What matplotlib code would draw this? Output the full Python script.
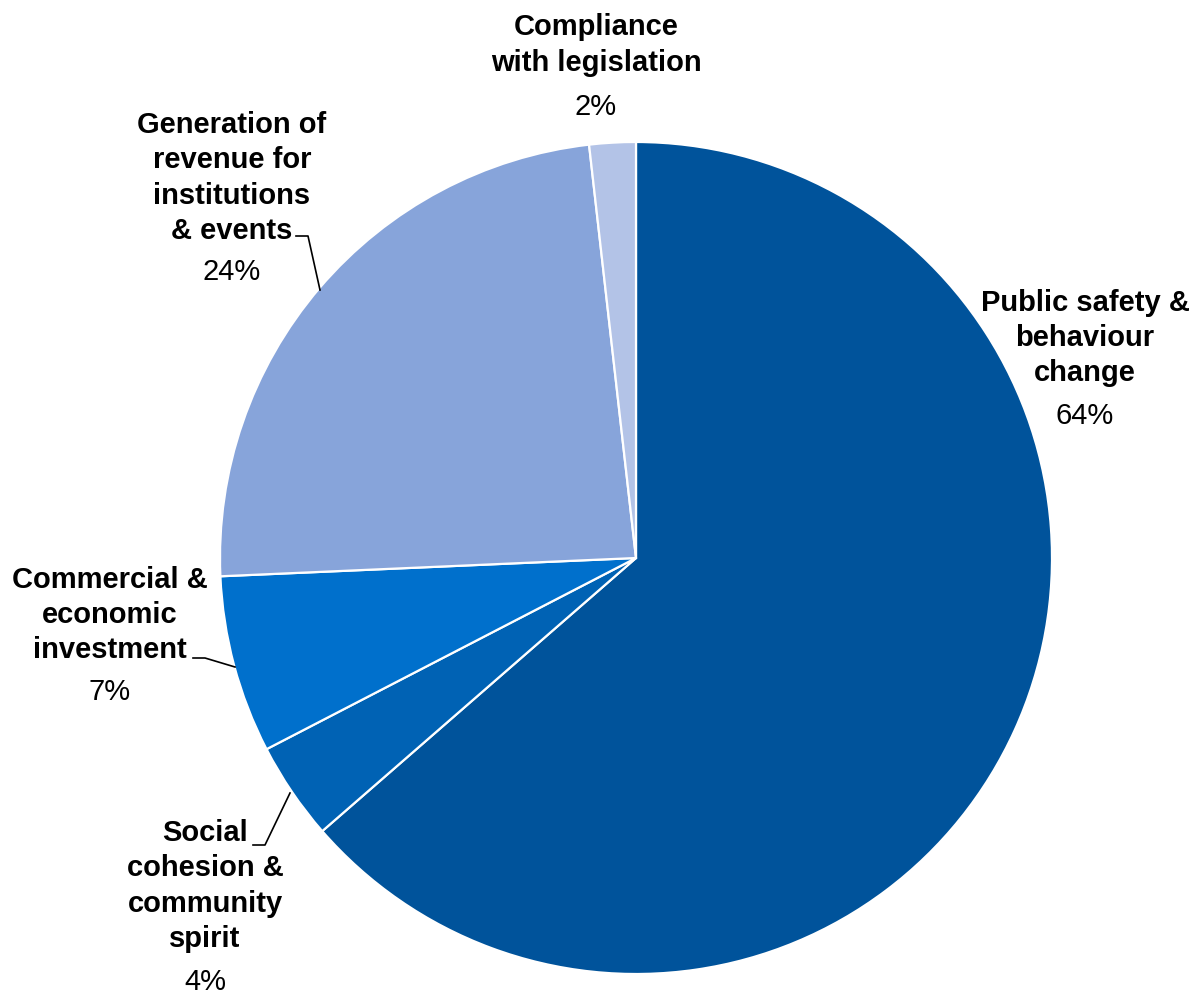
import numpy as np
import matplotlib.pyplot as plt

plt.rcParams['font.family'] = ['Liberation Sans', 'DejaVu Sans']

categories = ['Public safety &\nbehaviour\nchange',
              'Social\ncohesion &\ncommunity\nspirit',
              'Commercial &\neconomic\ninvestment',
              'Generation of\nrevenue for\ninstitutions\n& events',
              'Compliance\nwith legislation']
shares = [63.6, 3.8, 6.9, 23.9, 1.8]
colours = ['#00539B', '#0062B4', '#0070CC', '#87A4DA', '#B3C3E7']

W, H = 1193, 991
cx, cy, R = 636, 558, 416

fig = plt.figure(figsize=(W / 100, H / 100), dpi=100)
ax = fig.add_axes([0, 0, 1, 1])

ax.pie(shares, colors=colours, startangle=90, counterclock=False, radius=1,
       wedgeprops=dict(edgecolor='white', linewidth=1.6))

# pie() resets the limits, so fix them afterwards
ax.set_aspect('auto')
ax.set_xlim(-cx / R, (W - cx) / R)
ax.set_ylim(-(H - cy) / R, cy / R)
ax.axis('off')


def px(x, y):
    # pixel position (from top left) to data units
    return (x - cx) / R, (cy - y) / R


# label block centre, percent position
label_pos = [((1085, 338), (1085, 416)),
             ((205, 886), (205, 982)),
             ((110, 615), (110, 692)),
             ((232, 178), (232, 272)),
             ((596, 45), (596, 107))]

fs = 21
for name, val, (lp, pp) in zip(categories, shares, label_pos):
    ax.text(*px(*lp), name, ha='center', va='center', fontsize=fs,
            fontweight='bold', linespacing=1.33)
    ax.text(*px(*pp), '%d%%' % round(val), ha='center', va='center', fontsize=fs)

# leader lines for the labels placed beside the pie
leaders = [[(296, 236), (308, 236), (320, 290)],
           [(193, 658), (205, 658), (235, 667)],
           [(253, 845), (265, 845), (290, 793)]]
for pts in leaders:
    xy = np.array([px(x, y) for x, y in pts])
    ax.plot(xy[:, 0], xy[:, 1], color='black', lw=1.2)

fig.savefig('out.png', dpi=100)
